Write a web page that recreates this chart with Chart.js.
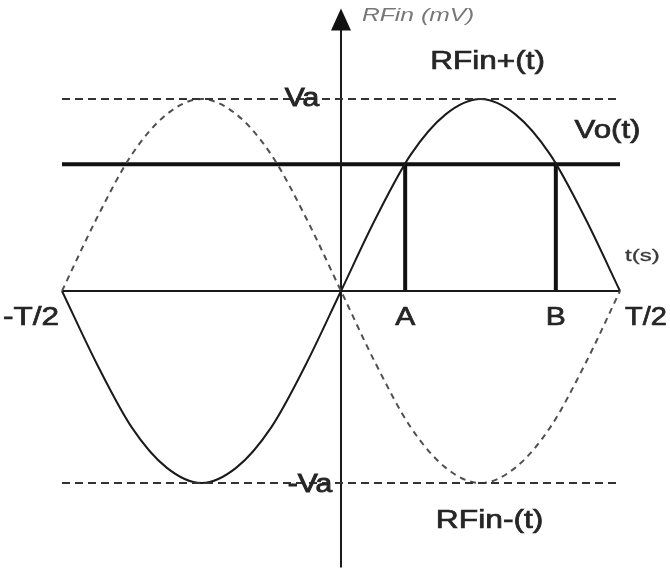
<!DOCTYPE html>
<html>
<head>
<meta charset="utf-8">
<title>RFin</title>
<script src="https://cdn.jsdelivr.net/npm/chart.js@4.4.1/dist/chart.umd.min.js"></script>
<style>
  html, body { margin: 0; padding: 0; background: #fff; }
  #wrap { width: 670px; height: 578px; }
</style>
</head>
<body>
<div id="wrap"><canvas id="myChart" width="670" height="578"></canvas></div>
<script>
// time in units of T/2, amplitude in units of Va
const tValues = [-1, -0.875, -0.75, -0.625, -0.5, -0.375, -0.25, -0.125, 0,
                 0.125, 0.25, 0.375, 0.5, 0.625, 0.75, 0.875, 1];
const rfinPlus = [0, -0.38, -0.71, -0.92, -1, -0.92, -0.71, -0.38, 0,
                  0.38, 0.71, 0.92, 1, 0.92, 0.71, 0.38, 0];
const rfinMinus = [0, 0.38, 0.71, 0.92, 1, 0.92, 0.71, 0.38, 0,
                   -0.38, -0.71, -0.92, -1, -0.92, -0.71, -0.38, 0];

const va = 1;
const vo = 0.66;
const tA = 0.23;
const tB = 0.77;

const tickValues = [-1, tA, tB, 1];
const tickLabels = ['-T/2', 'A', 'B', 'T/2'];

const yAxisTop = 1.44;
const yAxisBottom = -1.44;

function pts(xs, ys) {
    return xs.map((x, i) => ({x: x, y: ys[i]}));
}

function segment(x0, y0, x1, y1, color, width, dash) {
    return {
        data: [{x: x0, y: y0}, {x: x1, y: y1}],
        borderColor: color,
        borderWidth: width,
        borderDash: dash || [],
        showLine: true,
        pointRadius: 0,
        fill: false,
    };
}

// draws text stretched horizontally, with a thin stroke to thicken it
function drawText(c, text, x, y, font, align, color, sx, stroke) {
    c.save();
    c.font = font;
    c.fillStyle = color;
    c.strokeStyle = color;
    c.lineWidth = stroke || 0;
    c.textBaseline = 'middle';
    const w = c.measureText(text).width * sx;
    let left = x;
    if (align === 'center') left = x - w / 2;
    if (align === 'right') left = x - w;
    c.translate(left, y);
    c.scale(sx, 1);
    c.fillText(text, 0, 0);
    if (stroke) c.strokeText(text, 0, 0);
    c.restore();
}

const labelsPlugin = {
    id: 'labels',
    afterDatasetsDraw(chart) {
        const c = chart.ctx;
        const xs = chart.scales.x;
        const ys = chart.scales.y;
        const x0 = xs.getPixelForValue(0);
        const yTop = ys.getPixelForValue(yAxisTop);

        // arrow head on the vertical axis
        c.save();
        c.fillStyle = '#111';
        c.beginPath();
        c.moveTo(x0, yTop - 6);
        c.lineTo(x0 - 10, yTop + 16);
        c.lineTo(x0 + 10, yTop + 16);
        c.closePath();
        c.fill();
        c.restore();

        const dark = '#262626';
        const big = '25px "Liberation Sans", Arial, sans-serif';

        drawText(c, 'RFin (mV)', x0 + 21, 16, 'italic 18px "Liberation Sans", Arial, sans-serif', 'left', '#777', 1.37, 0);
        drawText(c, 'RFin+(t)', xs.getPixelForValue(0.32), 62, big, 'left', dark, 1.26, 0.7);
        drawText(c, 'Va', x0 - 39, ys.getPixelForValue(va), big, 'center', dark, 1.2, 0.9);
        drawText(c, 'Vo(t)', xs.getPixelForValue(0.837), 131, big, 'left', dark, 1.25, 0.7);
        drawText(c, 't(s)', xs.getPixelForValue(1) + 5, 257, '16px "Liberation Sans", Arial, sans-serif', 'left', '#3a3a3a', 1.5, 0.3);
        drawText(c, '-Va', x0 - 31, ys.getPixelForValue(-va) + 2, big, 'center', dark, 1.2, 0.9);
        drawText(c, 'RFin-(t)', xs.getPixelForValue(0.34), 521, big, 'left', dark, 1.27, 0.7);

        const yTick = ys.getPixelForValue(0) + 27;
        tickValues.forEach((v, i) => {
            const px = xs.getPixelForValue(v);
            let align = 'center';
            let off = 0;
            let sx = 1.2;
            if (i === 0) { align = 'right'; off = -3; sx = 1.26; }
            if (i === tickValues.length - 1) { align = 'left'; off = 5; sx = 1.16; }
            drawText(c, tickLabels[i], px + off, yTick, big, align, dark, sx, 0.7);
        });
    }
};

const ctx = document.getElementById('myChart');

new Chart(ctx, {
    type: 'scatter',
    data: {
        datasets: [
            segment(-1, va, 1, va, '#333', 2, [8, 5]),
            segment(-1, -va, 1, -va, '#333', 2, [8, 5]),
            {
                data: pts(tValues, rfinMinus),
                borderColor: '#505050',
                borderWidth: 2,
                borderDash: [6, 5],
                showLine: true,
                pointRadius: 0,
                cubicInterpolationMode: 'monotone',
                fill: false,
            },
            {
                data: pts(tValues, rfinPlus),
                borderColor: '#1a1a1a',
                borderWidth: 2,
                showLine: true,
                pointRadius: 0,
                cubicInterpolationMode: 'monotone',
                fill: false,
            },
            segment(-1, 0, 1, 0, '#1a1a1a', 2),
            segment(0, yAxisBottom, 0, yAxisTop, '#1a1a1a', 2),
            segment(-1, vo, 1, vo, '#111', 4),
            segment(tA, 0, tA, vo, '#111', 4),
            segment(tB, 0, tB, vo, '#111', 4),
        ],
    },
    options: {
        responsive: false,
        animation: false,
        layout: {padding: 0},
        plugins: {
            legend: {display: false},
            tooltip: {enabled: false},
        },
        scales: {
            x: {type: 'linear', display: false, min: -1.2222, max: 1.1792},
            y: {type: 'linear', display: false, min: -1.4948, max: 1.5156},
        },
    },
    plugins: [labelsPlugin],
});
</script>
</body>
</html>
